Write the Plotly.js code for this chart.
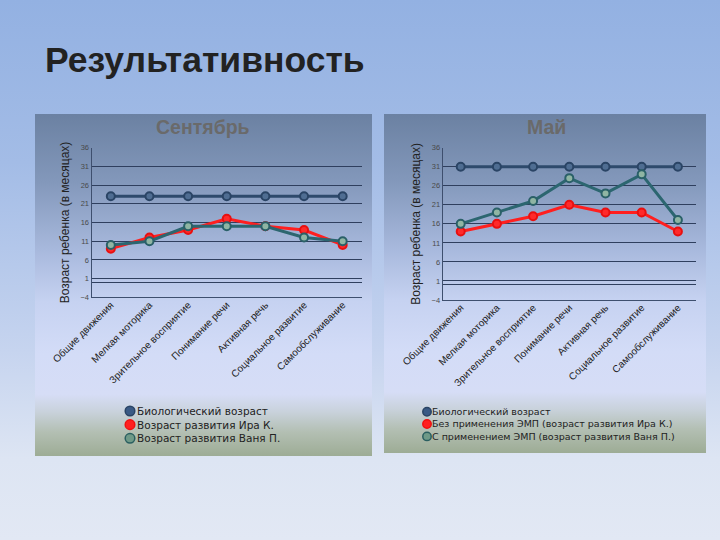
<!DOCTYPE html>
<html><head><meta charset="utf-8">
<script src="https://cdn.plot.ly/plotly-3.0.1.min.js"></script>
<style>
html,body{margin:0;padding:0;width:720px;height:540px;overflow:hidden}
body{background:linear-gradient(to bottom,#93b1e2 0%,#a3bce6 30%,#c6d4ef 65%,#dde5f3 85%,#e2e8f4 100%);position:relative}
.panel{position:absolute;background:linear-gradient(to bottom,#6b81a2 0%,#8398bb 20%,#a8b9dd 40%,#c6d2f1 55%,#d3dcf7 70%,#d6ddf6 82%,#c9d2dc 87%,#b3bfb3 93%,#9dac95 100%)}
#p1{left:35px;top:114px;width:337px;height:342px}
#p2{left:384px;top:114px;width:322px;height:339px}
#chart{position:absolute;left:0;top:0;width:720px;height:540px}
</style></head>
<body>
<div class="panel" id="p1"></div>
<div class="panel" id="p2"></div>
<div id="chart"></div>
<script>
const categories = ['Общие движения','Мелкая моторика','Зрительное восприятие','Понимание речи','Активная речь','Социальное развитие','Самообслуживание'];
const sepBio   = [23,23,23,23,23,23,23];
const sepIra   = [9,12,14,17,15,14,10];
const sepVanya = [10,11,15,15,15,12,11];
const mayBio   = [31,31,31,31,31,31,31];
const mayIra   = [14,16,18,21,19,19,14];
const mayVanya = [16,19,22,28,24,29,17];
const sepNames = ['Биологический возраст','Возраст развития Ира К.','Возраст развития Ваня П.'];
const mayNames = ['Биологический возраст','Без применения ЭМП (возраст развития Ира К.)','С применением ЭМП (возраст развития Ваня П.)'];
const yTicks = [-4,1,6,11,16,21,26,31,36];

const styles = [
  {line:'#2e4a6c', mfill:'#4f6d92', mline:'#2a4465', kfill:'#3a5a85', kline:'#2a4465'},
  {line:'#ff1f1f', mfill:'#ff2a2a', mline:'#e81010', kfill:'#ff2020', kline:'#f01010'},
  {line:'#2c6670', mfill:'#8fb5a3', mline:'#2a6068', kfill:'#6f9a88', kline:'#2a5f60'}
];
const FONT = 'Liberation Sans, Arial, sans-serif';
const LFONT = 'DejaVu Sans, Verdana, sans-serif';
const W=720,H=540;

function series(vals, names, xa, ya){
  return vals.map((v,i)=>{
    const s = styles[i];
    return {x:categories, y:v, xaxis:xa, yaxis:ya, type:'scatter', mode:'lines+markers', name:names[i],
      showlegend:false, line:{color:s.line,width:3},
      marker:{symbol:'circle',size:8,color:s.mfill,line:{color:s.mline,width:2}}};
  });
}
// legend keys (small circles next to the legend text block)
function keys(cx, cy0, step, r){
  return styles.map((s,i)=>{
    const cy = cy0 + i*step;
    return {type:'circle', xref:'paper', yref:'paper', x0:(cx-r)/W, x1:(cx+r)/W, y0:1-(cy+r)/H, y1:1-(cy-r)/H,
      fillcolor:s.kfill, line:{color:s.kline, width:1.5}};
  });
}

const data = [].concat(
  series([sepBio,sepIra,sepVanya], sepNames, 'x','y'),
  series([mayBio,mayIra,mayVanya], mayNames, 'x2','y2')
);

const gridC = '#2f3f5e';
function xax(d){return {domain:d, type:'category', range:[-0.5,6.5], showgrid:false, showline:true,
  linecolor:'#3e4f6e', linewidth:1, ticks:'', tickangle:-45, zeroline:false, ticklabelstandoff:-3,
  tickfont:{family:FONT, size:10, color:'#222'}};}
function yax(d){return {domain:d, range:[-4,36], tickvals:yTicks, showgrid:true, gridcolor:gridC, gridwidth:1,
  zeroline:true, zerolinecolor:gridC, zerolinewidth:1, showline:true, linecolor:'#3e4f6e', linewidth:1,
  ticks:'', ticklen:0, tickfont:{family:FONT, size:7.5, color:'#4a4a4a'},
  title:{text:'Возраст ребенка (в месяцах)', font:{family:FONT, size:12, color:'#222'}, standoff:8}};}

const layout = {
  width:W, height:H, margin:{l:0,r:0,t:0,b:0},
  paper_bgcolor:'rgba(0,0,0,0)', plot_bgcolor:'rgba(0,0,0,0)',
  title:{text:'<b>Результативность</b>', x:45/W, xanchor:'left', xref:'paper', y:1-60/H, yref:'paper', yanchor:'middle',
    font:{family:FONT, size:35.5, color:'#222'}},
  xaxis: xax([91.5/W, 362/W]),
  yaxis: yax([1-297.3/H, 1-147.7/H]),
  xaxis2: Object.assign(xax([442.6/W, 696/W]),{anchor:'y2'}),
  yaxis2: Object.assign(yax([1-300/H, 1-147.7/H]),{anchor:'x2'}),
  showlegend:false,
  shapes: [].concat(keys(130, 411, 13.65, 4.8), keys(427, 411.7, 12.35, 4.2)),
  annotations:[
    {text:'<b>Сентябрь</b>', x:203/W, y:1-127/H, xref:'paper', yref:'paper', xanchor:'center', yanchor:'middle', showarrow:false,
      font:{family:FONT, size:19.5, color:'#6a6a6a'}},
    {text:'<b>Май</b>', x:546/W, y:1-127/H, xref:'paper', yref:'paper', xanchor:'center', yanchor:'middle', showarrow:false,
      font:{family:FONT, size:19.5, color:'#6a6a6a'}},
    {text:sepNames.join('<br>'), x:135/W, y:1-424.7/H, xref:'paper', yref:'paper', xanchor:'left', yanchor:'middle', align:'left', showarrow:false,
      font:{family:LFONT, size:10.5, color:'#222'}},
    {text:mayNames.join('<br>'), x:430/W, y:1-424/H, xref:'paper', yref:'paper', xanchor:'left', yanchor:'middle', align:'left', showarrow:false,
      font:{family:LFONT, size:9.5, color:'#222'}}
  ]
};
Plotly.newPlot('chart', data, layout, {displayModeBar:false, staticPlot:true});
</script>
</body></html>
